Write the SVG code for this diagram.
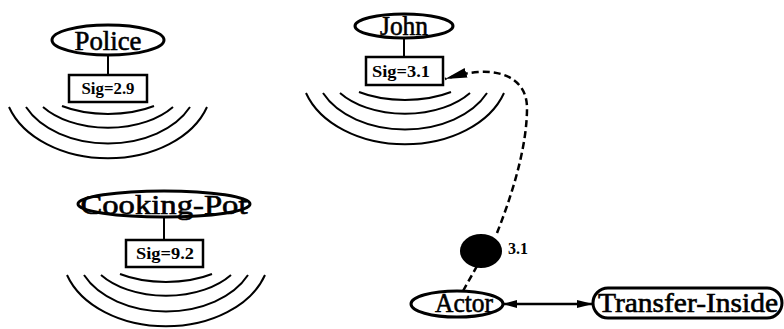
<svg xmlns="http://www.w3.org/2000/svg" width="784" height="329" viewBox="0 0 784 329">
<style>
.node{fill:#fff;stroke:#000;stroke-width:3}
.box{fill:#fff;stroke:#000;stroke-width:2.5}
.stem{stroke:#000;stroke-width:2}
.lbl{font-family:"Liberation Serif","Times New Roman",serif;font-size:27px;fill:#000;stroke:#000;stroke-width:0.6;text-anchor:middle}
.sig{font-family:"Liberation Serif","Times New Roman",serif;font-size:16px;font-weight:bold;fill:#000;text-anchor:middle}
.wave{fill:none;stroke:#000;stroke-width:2}
.dash{fill:none;stroke:#000;stroke-width:2.5;stroke-dasharray:7 4}
.conn{fill:none;stroke:#000;stroke-width:2.5}
</style>
<defs>
<g id="waves">
<path class="wave" d="M -46 0 A 70 32 0 0 0 46 0"/>
<path class="wave" d="M -65 1 A 80 50 0 0 0 65 1"/>
<path class="wave" d="M -82 1 A 90 62 0 0 0 82 1"/>
<path class="wave" d="M -99 1 A 104 74 0 0 0 99 1"/>
</g>
<marker id="ah" markerWidth="16" markerHeight="10" refX="16" refY="5" orient="auto" markerUnits="userSpaceOnUse">
<path d="M0,1 L16,5 L0,9 z" fill="#000"/>
</marker>
<marker id="ahs" markerWidth="14" markerHeight="10" refX="0" refY="5" orient="auto" markerUnits="userSpaceOnUse">
<path d="M14,1 L0,5 L14,9 z" fill="#000"/>
</marker>
<marker id="ahd" markerWidth="22" markerHeight="12" refX="22" refY="6" orient="auto" markerUnits="userSpaceOnUse">
<path d="M0,1 L22,6 L0,11 z" fill="#000"/>
</marker>
</defs>

<g id="police">
<line class="stem" x1="108" y1="55" x2="108" y2="75"/>
<ellipse class="node" cx="108" cy="40" rx="56" ry="15"/>
<text class="lbl" x="108" y="50" textLength="67" lengthAdjust="spacingAndGlyphs">Police</text>
<rect class="box" x="69" y="75" width="78" height="27"/>
<text class="sig" x="108" y="94" textLength="53" lengthAdjust="spacingAndGlyphs">Sig=2.9</text>
<use href="#waves" transform="translate(108,106)"/>
</g>

<g id="john">
<line class="stem" x1="404" y1="38" x2="404" y2="57"/>
<ellipse class="node" cx="404" cy="26" rx="49" ry="12"/>
<text class="lbl" x="404" y="35" font-size="26" textLength="48" lengthAdjust="spacingAndGlyphs">John</text>
<rect class="box" x="366" y="57" width="77" height="28"/>
<text class="sig" x="401" y="77" textLength="58" lengthAdjust="spacingAndGlyphs">Sig=3.1</text>
<use href="#waves" transform="translate(405,92)"/>
</g>

<g id="cooking-pot">
<line class="stem" x1="164" y1="217" x2="164" y2="240"/>
<ellipse class="node" cx="164" cy="204" rx="86" ry="13"/>
<text class="lbl" x="164" y="214" textLength="167" lengthAdjust="spacingAndGlyphs">Cooking-Pot</text>
<rect class="box" x="126" y="240" width="77" height="27"/>
<text class="sig" x="165" y="259" textLength="58" lengthAdjust="spacingAndGlyphs">Sig=9.2</text>
<use href="#waves" transform="translate(166,274)"/>
</g>

<g id="connectors">
<path class="dash" d="M 463 291 L 477 266"/>
<path class="dash" marker-end="url(#ahd)" d="M 497 233 C 510 200, 527 150, 527 108 C 527 82, 506 70, 478 72 C 465 73, 455 76, 445 79"/>
<line class="conn" x1="503" y1="304" x2="593" y2="304" marker-start="url(#ahs)" marker-end="url(#ah)"/>
</g>

<g id="signal">
<ellipse cx="481" cy="251" rx="21" ry="17" fill="#000"/>
<text class="sig" x="518" y="254">3.1</text>
</g>

<g id="actor">
<ellipse class="node" cx="457" cy="304" rx="46" ry="13"/>
<text class="lbl" x="464" y="312" font-size="21" textLength="58" lengthAdjust="spacingAndGlyphs">Actor</text>
</g>

<g id="transfer-inside">
<rect class="node" x="593" y="288" width="189" height="30" rx="15"/>
<text class="lbl" x="688" y="312" textLength="180" lengthAdjust="spacingAndGlyphs">Transfer-Inside</text>
</g>
</svg>
